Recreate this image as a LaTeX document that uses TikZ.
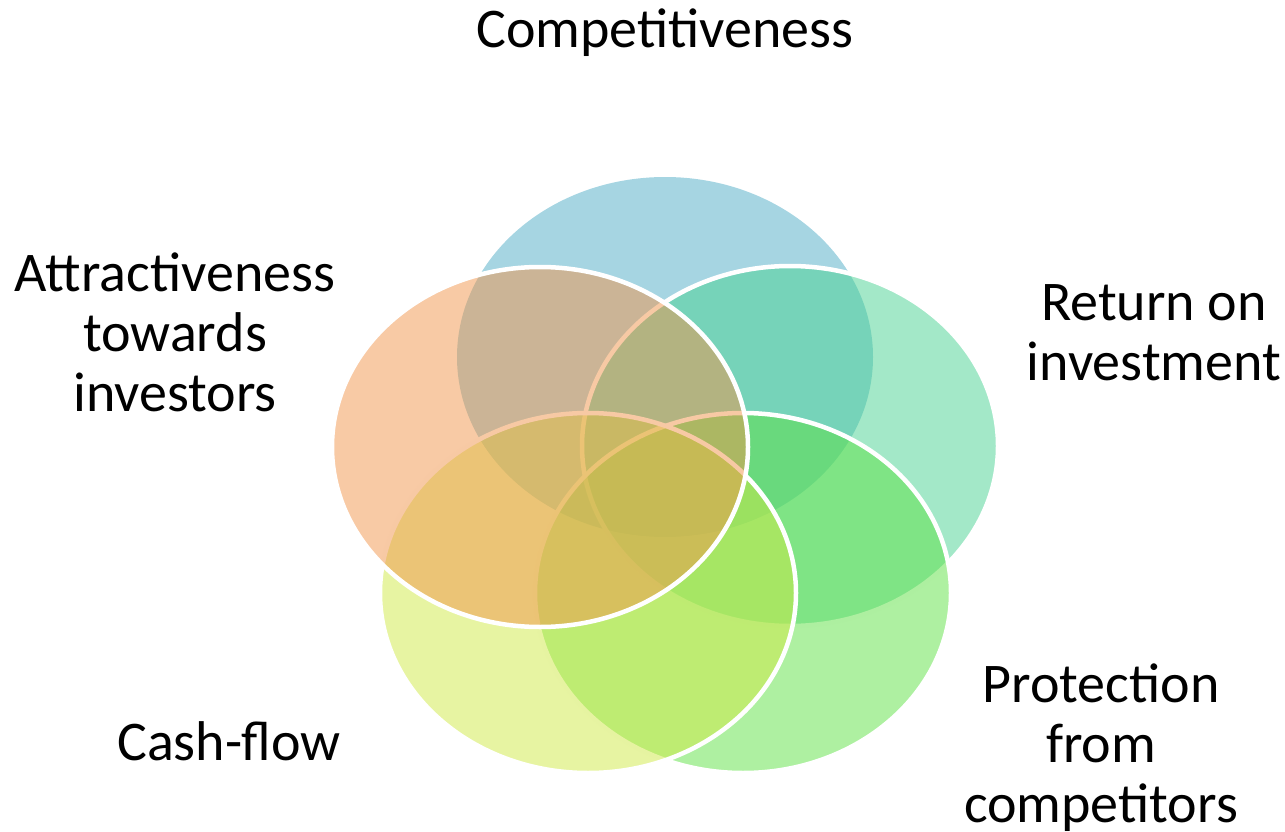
\documentclass[tikz,border=0pt]{standalone}
\usepackage{fontspec}
\setmainfont{Carlito}
\usetikzlibrary{shapes.geometric,positioning}

\definecolor{vblue}{RGB}{77,171,197}
\definecolor{vteal}{RGB}{71,209,145}
\definecolor{vgreen}{RGB}{93,225,67}
\definecolor{vyellow}{RGB}{207,233,69}
\definecolor{vorange}{RGB}{241,149,75}

\tikzset{
  petal/.style={ellipse, minimum width=416pt, minimum height=360pt, inner sep=0pt,
    draw=white, line width=4.5pt, fill opacity=0.5},
  caption/.style={font=\fontsize{56}{60}\selectfont, align=center, inner sep=0pt}
}

\begin{document}
\begin{tikzpicture}[x=1pt,y=-1pt]
  \useasboundingbox (0,0) rectangle (1285,832);
  % petals, back to front
  \node[petal, fill=vblue, draw=none] (comp) at (665,357) {};
  \node[petal, fill=vteal] (roi) at (790,446) {};
  \node[petal, fill=vgreen] (prot) at (743,593) {};
  \node[petal, fill=vyellow] (cash) at (588,593) {};
  \node[petal, fill=vorange] (attr) at (540,447) {};
  % captions
  \node[caption, anchor=base] (compt) at (665,48) {Competitiveness};
  \node[caption] (attrt) at (175,332) {Attractiveness\\towards\\investors};
  \node[caption] (roit) at (1154,333) {Return on\\investment};
  \node[caption] (prott) at (1101,748) {Protection\\from\\competitors};
  \node[caption, anchor=base] (casht) at (229,760) {Cash-flow};
\end{tikzpicture}
\end{document}
